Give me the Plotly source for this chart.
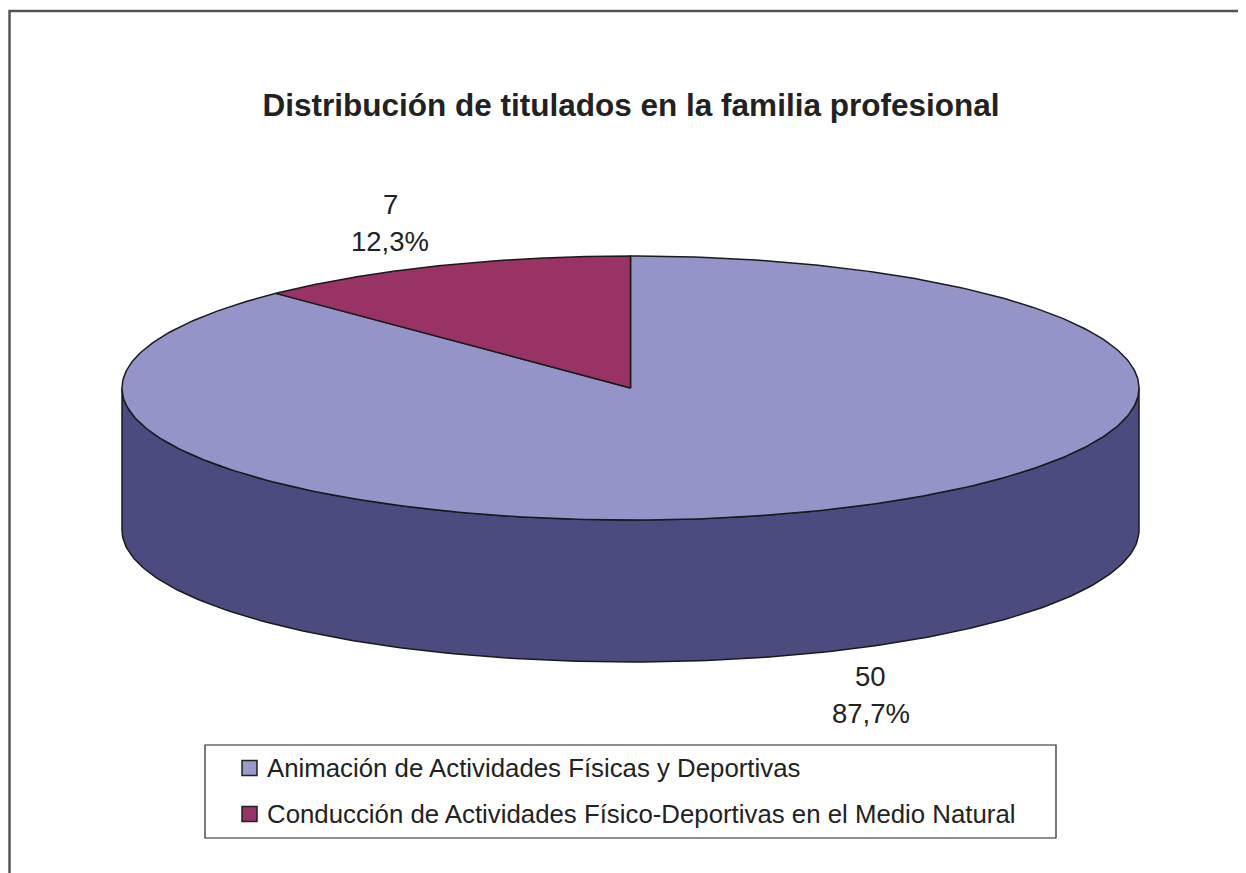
import numpy as np
import plotly.graph_objects as go

# datos
categorias = [
    "Animación de Actividades Físicas y Deportivas",
    "Conducción de Actividades Físico-Deportivas en el Medio Natural",
]
titulados = [50, 7]
colores_sup = ["#9494C8", "#993366"]
colores_lado = ["#4B4B80", "#5C1F3D"]
colores_leyenda = ["#9999CC", "#993366"]

titulo = "Distribución de titulados en la familia profesional"

# geometría del pastel 3D (en píxeles de la página)
W, H = 1246, 873
OFF = 8  # margen del body de la página
cx, cy = 630.5, 388
rx, ry = 508.5, 132
prof = 142
FUENTE = "Liberation Sans, Arial, sans-serif"


def punto(t, dy=0.0):
    r = np.radians(t)
    return cx + rx * np.sin(r), cy - ry * np.cos(r) + dy


total = sum(titulados)
angulos = [0.0]
for v in titulados:
    angulos.append(angulos[-1] + 360.0 * v / total)

fig = go.Figure()

# caras laterales visibles (parte delantera, de 90 a 270 grados)
for i, (a, b) in enumerate(zip(angulos[:-1], angulos[1:])):
    for lo_f, hi_f in [(90, 270), (450, 630)]:
        lo, hi = max(a, lo_f), min(b, hi_f)
        if hi <= lo:
            continue
        t = np.linspace(lo, hi, 200)
        xs_top, ys_top = punto(t)
        xs_bot, ys_bot = punto(t[::-1], prof)
        xs = np.concatenate([xs_top, xs_bot, xs_top[:1]])
        ys = np.concatenate([ys_top, ys_bot, ys_top[:1]])
        fig.add_trace(go.Scatter(
            x=xs, y=ys, mode="lines", fill="toself",
            fillcolor=colores_lado[i], line=dict(color="#1a1a1a", width=1.5),
            hoverinfo="skip", showlegend=False,
        ))

# caras superiores
for i, (a, b) in enumerate(zip(angulos[:-1], angulos[1:])):
    t = np.linspace(a, b, 400)
    xa, ya = punto(t)
    xs = np.concatenate([[cx], xa, [cx]])
    ys = np.concatenate([[cy], ya, [cy]])
    fig.add_trace(go.Scatter(
        x=xs, y=ys, mode="lines", fill="toself",
        fillcolor=colores_sup[i], line=dict(color="#1a1a1a", width=1.5),
        name=categorias[i], text=f"{categorias[i]}: {titulados[i]}",
        hoverinfo="text", hoveron="fills", showlegend=False,
    ))

# etiquetas de datos
anots = []
for i, (a, b) in enumerate(zip(angulos[:-1], angulos[1:])):
    m = np.radians((a + b) / 2)
    lx = cx + 1.255 * rx * np.sin(m)
    ly = cy - 1.35 * ry * np.cos(m) + (prof if np.cos(m) < 0 else 0)
    pct = f"{100 * titulados[i] / total:.1f}".replace(".", ",") + "%"
    for txt, off in [(str(titulados[i]), -18.5), (pct, 18.5)]:
        anots.append(dict(
            x=lx, y=ly + off, xref="x", yref="y", text=txt, showarrow=False,
            xanchor="center", yanchor="middle",
            font=dict(family=FUENTE, size=27.5, color="#222222"),
        ))

# marco exterior (en coordenadas del papel, sin recorte) y leyenda
shapes = [
    dict(type="rect", xref="paper", yref="paper",
         x0=1.5 / W, y0=-0.05, x1=1.05, y1=1 - 3 / H,
         line=dict(color="#555555", width=2.5), fillcolor="rgba(0,0,0,0)", layer="below"),
    dict(type="rect", xref="x", yref="y", x0=205, y0=745, x1=1056, y1=838,
         line=dict(color="#222222", width=1.2), fillcolor="white", layer="above"),
]
filas_y = [768, 814]
for i, cat in enumerate(categorias):
    yc = filas_y[i]
    shapes.append(dict(
        type="rect", xref="x", yref="y", x0=242, y0=yc - 7.5, x1=257, y1=yc + 7.5,
        line=dict(color="#222222", width=1.5), fillcolor=colores_leyenda[i], layer="above",
    ))
    anots.append(dict(
        x=265, y=yc, xref="x", yref="y", text=cat, showarrow=False,
        xanchor="left", yanchor="middle",
        font=dict(family=FUENTE, size=25.8, color="#222222"),
    ))

fig.update_layout(
    width=W, height=H,
    margin=dict(l=0, r=0, t=0, b=0),
    paper_bgcolor="white", plot_bgcolor="white",
    title=dict(
        text=f"<b>{titulo}</b>", x=(631 - OFF) / W, xanchor="center",
        y=1 - (105 - OFF) / H, yanchor="middle",
        font=dict(family=FUENTE, size=31.5, color="#222222"),
    ),
    xaxis=dict(range=[OFF, W + OFF], visible=False, fixedrange=True),
    yaxis=dict(range=[H + OFF, OFF], visible=False, fixedrange=True),
    shapes=shapes,
    annotations=anots,
    showlegend=False,
)

fig.write_html("out.html")
